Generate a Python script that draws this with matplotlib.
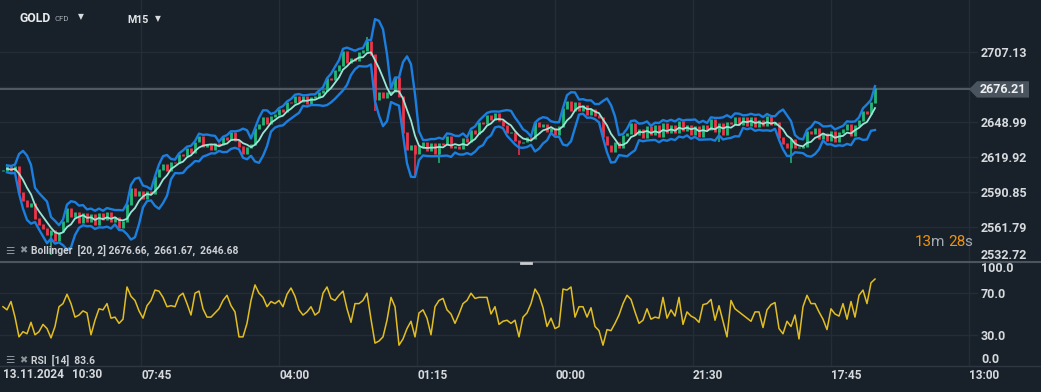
import numpy as np
import pandas as pd
import matplotlib
matplotlib.use("Agg")
import matplotlib.pyplot as plt
from matplotlib.lines import Line2D
from matplotlib.patches import Polygon
from matplotlib.transforms import blended_transform_factory

W, H = 1041, 392

# GOLD CFD, M15 -- closes (one value every ~4 px)
closes = [
    2608.6, 2611.5, 2608.0, 2612.0, 2590.0, 2583.0, 2578.5, 2580.5, 2568.0, 2563.5,
    2560.0, 2555.0, 2558.0, 2549.5, 2557.0, 2566.0, 2577.0, 2569.5, 2573.5, 2564.5,
    2572.5, 2566.0, 2571.5, 2563.0, 2572.5, 2567.5, 2573.5, 2565.5, 2569.5, 2561.0,
    2566.0, 2580.0, 2593.0, 2587.0, 2590.5, 2584.5, 2590.5, 2589.0, 2603.0, 2609.0,
    2613.5, 2608.5, 2615.0, 2614.5, 2621.5, 2620.5, 2626.5, 2623.5, 2632.0, 2636.5,
    2628.0, 2630.0, 2625.5, 2631.0, 2629.5, 2635.5, 2634.0, 2640.0, 2633.0, 2628.0,
    2622.0, 2627.5, 2630.0, 2643.0, 2646.5, 2652.0, 2647.5, 2653.0, 2654.5, 2659.0,
    2657.5, 2665.0, 2664.5, 2669.5, 2666.0, 2669.5, 2664.0, 2669.0, 2669.5, 2673.5,
    2675.0, 2684.5, 2684.0, 2691.5, 2696.0, 2707.5, 2698.5, 2701.5, 2700.0, 2706.5,
    2708.5, 2715.5, 2705.0, 2667.0, 2673.5, 2669.0, 2673.5, 2674.0, 2685.5, 2670.0,
    2640.3, 2626.0, 2629.5, 2622.5, 2628.0, 2632.0, 2625.0, 2631.0, 2622.5, 2631.0,
    2630.0, 2637.0, 2627.0, 2628.0, 2626.5, 2635.0, 2632.0, 2641.5, 2639.0, 2648.0,
    2647.5, 2654.0, 2650.5, 2656.0, 2649.5, 2645.5, 2640.0, 2640.0, 2633.0, 2631.5,
    2632.0, 2636.0, 2635.0, 2648.0, 2645.0, 2646.5, 2641.0, 2643.5, 2638.0, 2645.0,
    2660.0, 2665.5, 2658.5, 2665.0, 2658.5, 2662.5, 2654.5, 2659.0, 2654.0, 2652.0,
    2636.5, 2629.5, 2624.0, 2631.5, 2627.5, 2637.5, 2639.0, 2647.0, 2638.5, 2642.0,
    2636.0, 2644.5, 2638.5, 2645.5, 2636.5, 2647.0, 2640.0, 2645.5, 2640.0, 2649.0,
    2641.5, 2646.0, 2638.5, 2644.5, 2636.5, 2645.5, 2642.0, 2650.5, 2640.5, 2647.5,
    2638.0, 2648.5, 2647.0, 2652.5, 2646.5, 2652.5, 2646.0, 2652.0, 2644.5, 2649.5,
    2645.5, 2653.0, 2646.5, 2648.5, 2635.5, 2631.0, 2627.0, 2634.5, 2627.0, 2627.5,
    2628.0, 2641.0, 2639.0, 2643.5, 2634.5, 2639.5, 2633.0, 2640.5, 2632.0, 2640.0,
    2642.0, 2646.5, 2637.0, 2646.0, 2649.5, 2657.5, 2655.5, 2664.5, 2676.21,
]
# a few long wicks that stand out
wick_idx = [12, 91, 93, 103, 109, 129, 179, 197]
wick_px = [2538.3, 2719.9, 2658.0, 2604.9, 2615.0, 2621.6, 2632.0, 2614.9]

rsi = [
    57, 54, 62, 47, 28, 33, 31, 42, 30, 33,
    40, 36, 27, 38, 57, 60, 69, 60, 47, 49,
    53, 51, 30, 44, 55, 54, 60, 46, 47, 41,
    45, 76, 67, 63, 53, 46, 58, 63, 73, 72,
    66, 57, 58, 57, 67, 70, 60, 49, 70, 72,
    55, 47, 47, 51, 55, 63, 68, 58, 52, 28,
    28, 41, 63, 78, 70, 66, 57, 62, 60, 63,
    57, 69, 75, 67, 54, 49, 52, 57, 49, 52,
    70, 76, 65, 63, 68, 72, 55, 42, 60, 60,
    63, 70, 45, 22, 24, 28, 44, 66, 57, 20,
    26, 36, 43, 28, 51, 54, 46, 30, 57, 63,
    65, 54, 50, 41, 50, 60, 63, 70, 65, 66,
    66, 66, 50, 57, 40, 43, 44, 41, 44, 28,
    47, 51, 60, 74, 68, 56, 38, 46, 36, 38,
    74, 73, 76, 47, 57, 57, 47, 56, 38, 34,
    20, 35, 34, 41, 49, 60, 68, 64, 52, 41,
    44, 55, 45, 47, 46, 66, 46, 54, 48, 66,
    40, 52, 48, 46, 42, 59, 60, 64, 44, 58,
    43, 28, 63, 55, 52, 49, 46, 43, 52, 52,
    37, 54, 59, 61, 36, 31, 43, 38, 49, 26,
    57, 68, 60, 60, 52, 45, 35, 55, 50, 48,
    60, 45, 62, 47, 68, 73, 60, 80, 83.6,
]

price_ticks = [2532.72, 2561.79, 2590.85, 2619.92, 2648.99, 2678.06, 2707.13]
price_labels = ["2532.72", "2561.79", "2590.85", "2619.92", "2648.99", "", "2707.13"]
last_price = 2676.21
bb_last = (2676.66, 2661.67, 2646.68)
time_ticks = [34.5, 69, 103.5, 138, 172.5, 207, 241.5]
time_labels = ["07:45", "04:00", "01:15", "00:00", "21:30", "17:45", "13:00"]
rsi_ticks = [0, 30, 70, 100]
rsi_labels = ["0.0", "30.0", "70.0", "100.0"]

BG = "#18212a"
GRID = "#242d37"
TXT = "#d6dadd"
RED = "#f0344a"
GREEN = "#22b978"
BAND = "#1b7fe0"
MID = "#9ae6d4"
RSI_C = "#e3be22"

plt.rcParams["font.family"] = ["Roboto", "DejaVu Sans"]

c = pd.Series(closes)
o = c.shift(1).fillna(c.iloc[0])
# 20 source bars ~ 5 samples at this spacing
mid = c.rolling(5, min_periods=2).mean()
sd = c.rolling(5, min_periods=2).std(ddof=0)
upper, lower = mid + 2 * sd, mid - 2 * sd
x = np.arange(len(c))


def fx(px):
    return px / W


def fy(py):
    return 1 - py / H


fig = plt.figure(figsize=(W / 100, H / 100), dpi=100, facecolor=BG)
ax1 = fig.add_axes([0, fy(262), fx(978), 262 / H], facecolor=BG)
ax2 = fig.add_axes([0, fy(366), fx(978), 104 / H], facecolor=BG)

for ax in (ax1, ax2):
    ax.set_xlim(-0.75, 243.75)
    for s in ax.spines.values():
        s.set_visible(False)
    ax.set_xticks(time_ticks)
    ax.grid(True, color=GRID, lw=1, zorder=0)
    ax.yaxis.tick_right()
    ax.tick_params(length=0, labelcolor=TXT)

# ---- price pane ----
ax1.set_ylim(2532.4, 2750.7)
ax1.set_yticks(price_ticks, price_labels)
ax1.tick_params(axis="y", pad=2.2, labelsize=9)
ax1.tick_params(axis="x", labelbottom=False)
for lbl in ax1.get_yticklabels():
    lbl.set_fontweight("bold")
ax1.get_yticklabels()[0].set_va("bottom")

up = (c >= o).to_numpy()
lo_b = np.minimum(o, c).to_numpy()
hi_b = np.maximum(o, c).to_numpy()
cols = np.where(up, GREEN, RED)
ax1.vlines(x, lo_b, hi_b + 0.8, colors=cols, lw=2.0, zorder=3)
for i, p in zip(wick_idx, wick_px):
    ax1.vlines(i, min(p, lo_b[i]), max(p, hi_b[i]), colors=cols[i], lw=1.1, zorder=3)

ax1.plot(x, upper, color=BAND, lw=1.7, zorder=4)
ax1.plot(x, lower, color=BAND, lw=1.7, zorder=4)
ax1.plot(x, mid, color=MID, lw=1.3, zorder=5)
ax1.axhline(last_price, color="#5b656f", lw=1.2, zorder=2)

# last price tag
tr = blended_transform_factory(fig.transFigure, ax1.transData)
dy = 8.2 * (2750.7 - 2532.4) / 262
tag = Polygon([(fx(969), last_price), (fx(977), last_price + dy), (fx(1029), last_price + dy),
               (fx(1029), last_price - dy), (fx(977), last_price - dy)],
              closed=True, transform=tr, facecolor="#4a545e", edgecolor="none", clip_on=False)
fig.add_artist(tag)
fig.text(fx(1003), last_price, f"{last_price:.2f}", transform=tr, ha="center", va="center",
         color="#eef0f2", fontsize=9, fontweight="bold")

# ---- RSI pane ----
ax2.set_ylim(0, 100)
ax2.set_yticks(rsi_ticks, rsi_labels)
ax2.tick_params(axis="y", pad=2.2, labelsize=9)
labs = ax2.get_yticklabels()
labs[0].set_va("bottom")
labs[-1].set_va("top")
for lbl in labs:
    lbl.set_fontweight("bold")
ax2.set_xticks(time_ticks, time_labels)
ax2.tick_params(axis="x", pad=2.5, labelsize=8.5)
for lbl in ax2.get_xticklabels():
    lbl.set_ha("left")
    lbl.set_fontweight("bold")
ax2.plot(np.arange(len(rsi)), rsi, color=RSI_C, lw=1.1, zorder=3)

# pane separators
fig.add_artist(Line2D([0, 1], [fy(262), fy(262)], color="#4c555e", lw=1.5))
fig.add_artist(Line2D([fx(521), fx(531)], [fy(262.5), fy(262.5)], color="#c8cdd2", lw=2))
fig.add_artist(Line2D([0, 1], [fy(366), fy(366)], color="#2e3741", lw=1))

# header
fig.text(fx(20), fy(18.7), "GOLD", color="#e8eaec", fontsize=8.8, fontweight="bold", va="center")
fig.text(fx(54.5), fy(19.3), "CFD", color="#a7adb3", fontsize=5.6, va="center")
fig.text(fx(77.5), fy(16.5), "▼", color="#d8dcdf", fontsize=5.5, va="center",
         family=["DejaVu Sans"])
fig.text(fx(127), fy(20.2), "M15", color="#e2e5e8", fontsize=7.7, fontweight="bold", va="center")
fig.text(fx(154.5), fy(18.5), "▼", color="#d8dcdf", fontsize=5.5, va="center",
         family=["DejaVu Sans"])

# indicator captions
for yy, label in [(250.5, "Bollinger  [20, 2] %.2f,  %.2f,  %.2f" % bb_last),
                  (360.0, "RSI  [14]  %.1f" % rsi[-1])]:
    fig.text(fx(5), fy(yy), "☰", color="#8d949b", fontsize=7.5, va="center",
             family=["DejaVu Sans"])
    fig.text(fx(19), fy(yy), "✖", color="#8d949b", fontsize=7, va="center",
             family=["DejaVu Sans"])
    fig.text(fx(31), fy(yy), label, color="#cdd1d5", fontsize=7.4, va="center",
             fontweight="bold")

# bottom-left date
fig.text(fx(3), fy(375), "13.11.2024", color=TXT, fontsize=8.5, fontweight="bold", va="center")
fig.text(fx(72), fy(375), "10:30", color=TXT, fontsize=8.5, fontweight="bold", va="center")

# candle countdown
for px, s, col in [(914.5, "13", "#f0920c"), (930.5, "m", "#a3aab1"),
                   (948.5, "28", "#f0920c"), (964, "s", "#a3aab1")]:
    fig.text(fx(px), fy(241.5), s, color=col, fontsize=11, va="center")

fig.savefig("out.png", dpi=100, facecolor=BG)
